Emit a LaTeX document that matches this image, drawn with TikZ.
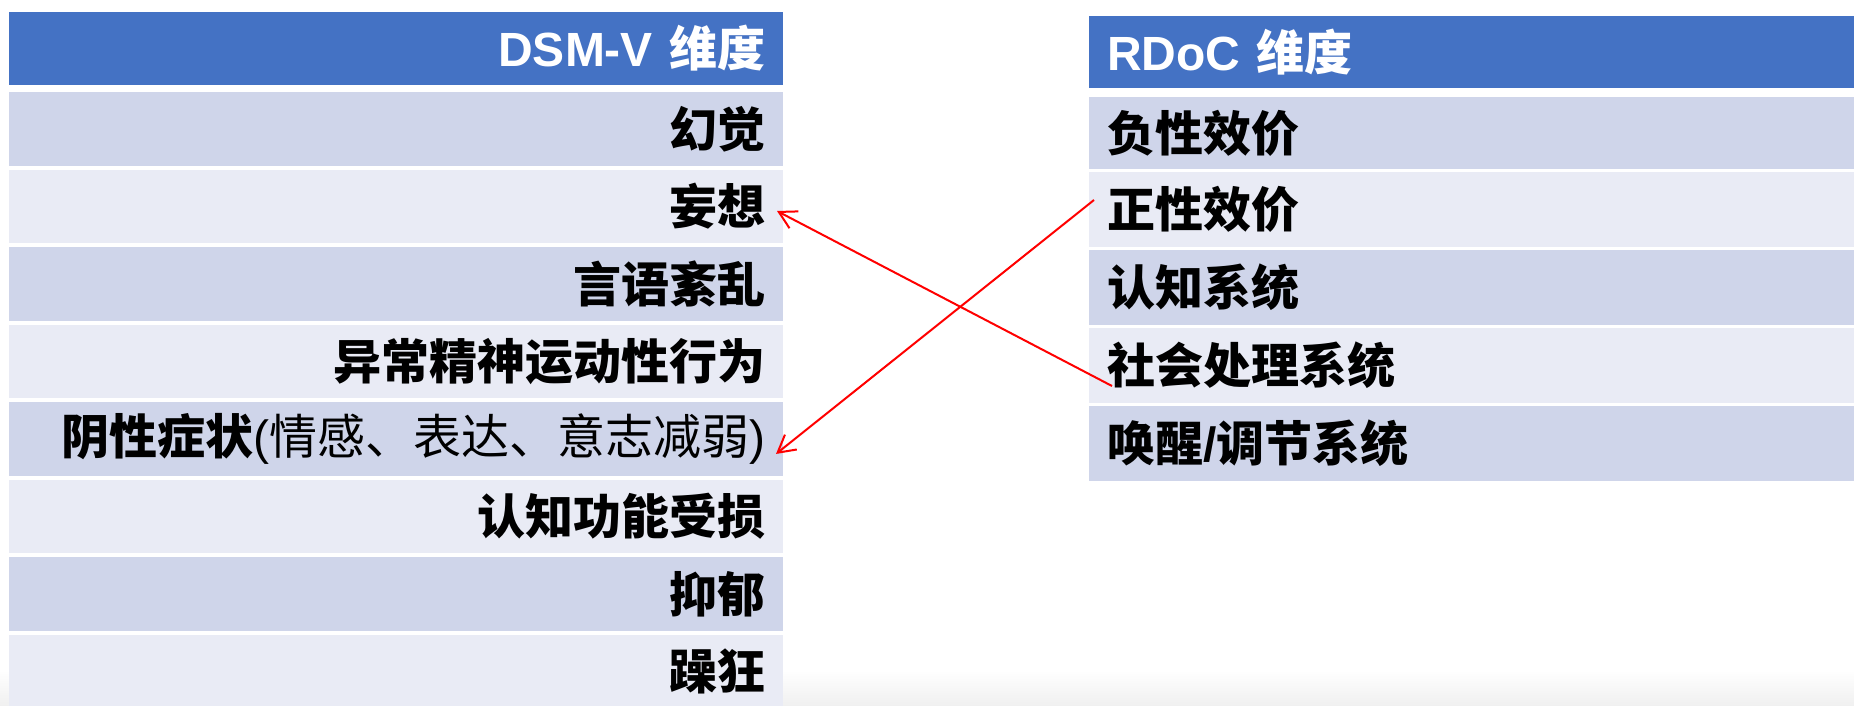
\documentclass[tikz,border=0pt]{standalone}
\usepackage{fontspec}
\setmainfont{Noto Sans CJK SC}
\newfontfamily\lat{Liberation Sans}
\usetikzlibrary{arrows.meta}
\definecolor{hdr}{HTML}{4472C4}
\definecolor{dk}{HTML}{CFD5EA}
\definecolor{lt}{HTML}{E9EBF5}
\definecolor{arr}{HTML}{FF0000}
\tikzset{
  cell/.style={draw=none, inner xsep=18pt, inner ysep=0pt, outer sep=0pt,
    minimum height=#1, font=\fontsize{48pt}{56pt}\selectfont\bfseries},
  lcell/.style={cell=#1, minimum width=774pt, text width=738pt, align=right},
  rcell/.style={cell=#1, minimum width=765pt, text width=729pt, align=left},
  hdrtext/.style={text=white},
  link/.style={draw=arr, line width=2pt, -{Straight Barb[length=17pt,width=19pt,line width=2pt]}}
}
\begin{document}
\begin{tikzpicture}[x=1pt,y=-1pt]
\useasboundingbox (0,0) rectangle (1854,706);
\fill[white] (0,0) rectangle (1854,706);
\shade[top color=white, bottom color=black!6] (0,670) rectangle (1854,706);
% left table
\node[lcell=73pt, fill=hdr, hdrtext] (lh) at (396,48.5) {{\lat DSM-V} 维度};
\node[lcell=73.5pt, fill=dk] (l1) at (396,128.75) {幻觉};
\node[lcell=73.5pt, fill=lt] (l2) at (396,206.3) {妄想};
\node[lcell=73.5pt, fill=dk] (l3) at (396,283.85) {言语紊乱};
\node[lcell=73.5pt, fill=lt] (l4) at (396,361.4) {异常精神运动性行为};
\node[lcell=73.5pt, fill=dk] (l5) at (396,438.95) {阴性症状{\mdseries\lat (}{\mdseries 情感、表达、意志减弱}{\mdseries\lat )}};
\node[lcell=73.5pt, fill=lt] (l6) at (396,516.5) {认知功能受损};
\node[lcell=73.5pt, fill=dk] (l7) at (396,594.05) {抑郁};
\node[lcell=73.5pt, fill=lt] (l8) at (396,671.6) {躁狂};
% right table
\node[rcell=72pt, fill=hdr, hdrtext] (rh) at (1471.5,52) {{\lat RDoC} 维度};
\node[rcell=72pt, fill=dk] (r1) at (1471.5,133) {负性效价};
\node[rcell=75pt, fill=lt] (r2) at (1471.5,209.5) {正性效价};
\node[rcell=75pt, fill=dk] (r3) at (1471.5,287.5) {认知系统};
\node[rcell=75pt, fill=lt] (r4) at (1471.5,365.5) {社会处理系统};
\node[rcell=75pt, fill=dk] (r5) at (1471.5,443.5) {唤醒{\lat /}调节系统};
% connectors
\draw[link] ([shift={(5pt,9.5pt)}]r2.west) -- ([shift={(-7pt,-15pt)}]l5.east);
\draw[link] ([shift={(23pt,-20.5pt)}]r4.west) -- ([shift={(-6pt,-4.7pt)}]l2.east);
\end{tikzpicture}
\end{document}
